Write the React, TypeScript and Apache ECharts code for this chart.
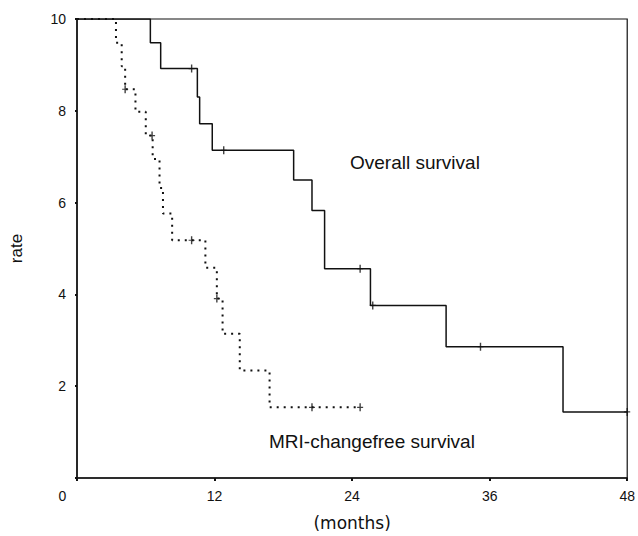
import React, { useEffect, useRef } from "react";
import * as echarts from "echarts";

const xTicks = [0, 12, 24, 36, 48];
const yTickLabels: Record<number, string> = { 0: "", 2: "2", 4: "4", 6: "6", 8: "8", 10: "10" };

const overallTimes = [0, 6.4, 7.3, 10.5, 10.7, 11.8, 18.9, 20.5, 21.6, 25.6, 32.2, 42.4, 48];
const overallRates = [10, 9.48, 8.92, 8.3, 7.72, 7.14, 6.49, 5.83, 4.56, 3.76, 2.86, 1.44, 1.44];
const overallCensor = [10.0, 12.8, 24.7, 25.8, 35.2, 48];

const mriTimes = [0, 3.4, 3.9, 4.2, 5.1, 6.0, 6.6, 7.2, 7.5, 8.3, 11.2, 12.2, 12.7, 14.2, 16.8, 24.7];
const mriRates = [10, 9.48, 8.97, 8.47, 7.98, 7.46, 6.95, 6.32, 5.76, 5.18, 4.58, 3.91, 3.14, 2.34, 1.54, 1.54];
const mriCensor = [4.2, 6.55, 10.0, 12.2, 20.5, 24.7];

const labelOverall = "Overall survival";
const labelMri = "MRI-changefree survival";

function levelAt(times: number[], rates: number[], t: number) {
  let v = rates[0];
  for (let i = 0; i < times.length; i++) if (times[i] <= t) v = rates[i];
  return v;
}

const plus =
  "path://M-0.7,-4H0.7V-0.6H3V0.6H0.7V4H-0.7V0.6H-3V-0.6H-0.7Z";

export default function App() {
  const ref = useRef<HTMLDivElement>(null);
  useEffect(() => {
    document.body.style.margin = "0";
    const chart = echarts.init(ref.current!, null, { renderer: "svg" });
    const font = "Liberation Sans";
    chart.setOption({
      animation: false,
      backgroundColor: "#fff",
      grid: {
        left: 74,
        top: 19,
        right: 7,
        bottom: 52,
        show: true,
        borderColor: "#111",
        borderWidth: 1.2,
      },
      xAxis: {
        type: "value",
        min: 0,
        max: 48,
        interval: 12,
        name: "(months)",
        nameLocation: "middle",
        nameGap: 36,
        nameTextStyle: { fontFamily: "DejaVu Sans", fontSize: 17, color: "#111" },
        axisLine: { lineStyle: { color: "#111", width: 1.5 } },
        axisTick: { show: true, length: 3, lineStyle: { color: "#111", width: 2 } },
        splitLine: { show: false },
        axisLabel: {
          margin: 11,
          fontFamily: font,
          fontSize: 14,
          color: "#111",
          formatter: (v: number) => (v === 0 ? "{z|0}" : String(v)),
          rich: { z: { fontFamily: font, fontSize: 14, color: "#111", padding: [0, 29, 0, 0] } },
          customValues: xTicks,
        },
      },
      yAxis: {
        type: "value",
        min: 0,
        max: 10,
        interval: 2,
        name: "rate",
        nameLocation: "middle",
        nameGap: 52,
        nameRotate: 90,
        nameTextStyle: { fontFamily: font, fontSize: 17, color: "#111" },
        axisLine: { show: true, lineStyle: { color: "#111", width: 1.5 } },
        axisTick: { show: true, length: 2, lineStyle: { color: "#111", width: 2 } },
        splitLine: { show: false },
        axisLabel: {
          margin: 11,
          fontFamily: font,
          fontSize: 14,
          color: "#111",
          formatter: (v: number) => yTickLabels[v] ?? "",
        },
      },
      series: [
        {
          type: "line",
          name: labelOverall,
          step: "end",
          symbol: "none",
          data: overallTimes.map((t, i) => [t, overallRates[i]]),
          lineStyle: { color: "#111", width: 1.5 },
        },
        {
          type: "line",
          name: labelMri,
          step: "end",
          symbol: "none",
          data: mriTimes.map((t, i) => [t, mriRates[i]]),
          lineStyle: { color: "#111", width: 2, type: [2, 5] },
        },
        {
          type: "scatter",
          symbol: plus,
          symbolSize: [6, 8],
          itemStyle: { color: "#111" },
          data: overallCensor.map((t) => [t, levelAt(overallTimes, overallRates, t)]),
        },
        {
          type: "scatter",
          symbol: plus,
          symbolSize: [6, 8],
          itemStyle: { color: "#111" },
          data: mriCensor.map((t) => [t, levelAt(mriTimes, mriRates, t)]),
        },
      ],
      graphic: [
        {
          type: "text",
          left: 350,
          top: 153,
          style: { text: labelOverall, fontFamily: font, fontSize: 19, fill: "#111" },
        },
        {
          type: "text",
          left: 269,
          top: 432,
          style: { text: labelMri, fontFamily: font, fontSize: 19, fill: "#111" },
        },
      ],
    });
    return () => chart.dispose();
  }, []);
  return <div ref={ref} style={{ width: 638, height: 536 }} />;
}
